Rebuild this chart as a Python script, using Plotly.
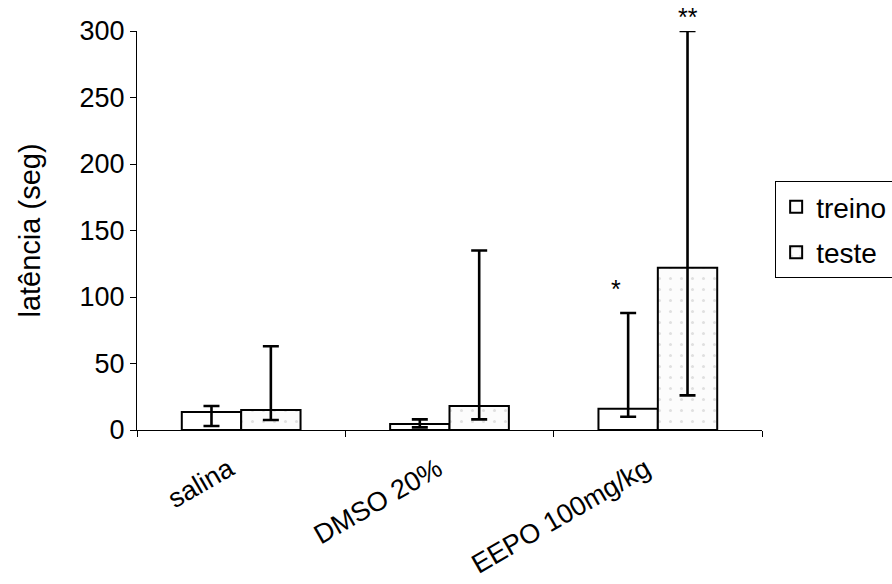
import plotly.graph_objects as go

categories = ["salina", "DMSO 20%", "EEPO 100mg/kg"]
treino = [13.5, 4.5, 16]
treino_upper = [18, 8, 88]
treino_lower = [3, 2, 10]
teste = [15, 18, 122]
teste_upper = [63, 135, 300]
teste_lower = [7.5, 8, 26]
y_ticks = [0, 50, 100, 150, 200, 250, 300]
stars = ["*", "**"]

FONT = "Liberation Sans, Arial, sans-serif"

fig = go.Figure()
fig.add_trace(go.Bar(
    name="treino", x=categories, y=treino, legendgroup="a",
    marker=dict(color="white", line=dict(color="black", width=2)),
    error_y=dict(type="data", symmetric=False,
                 array=[u - v for u, v in zip(treino_upper, treino)],
                 arrayminus=[v - l for v, l in zip(treino, treino_lower)],
                 color="black", thickness=2.6, width=8),
))
fig.add_trace(go.Bar(
    name="teste", x=categories, y=teste, legendgroup="b",
    marker=dict(color="#fcfcfc", line=dict(color="black", width=2),
                pattern=dict(shape=".", fgcolor="#c4c4c4", bgcolor="#fcfcfc",
                             size=11, solidity=0.06)),
    error_y=dict(type="data", symmetric=False,
                 array=[u - v for u, v in zip(teste_upper, teste)],
                 arrayminus=[v - l for v, l in zip(teste, teste_lower)],
                 color="black", thickness=2.6, width=8),
))

fig.add_annotation(x=categories[2], y=treino_upper[2], text=stars[0], showarrow=False,
                   xshift=-42, yshift=8, yanchor="bottom",
                   font=dict(family=FONT, size=25, color="black"))
fig.add_annotation(x=categories[2], y=teste_upper[2], text=stars[1], showarrow=False,
                   xshift=30, yshift=-2, yanchor="bottom",
                   font=dict(family=FONT, size=25, color="black"))

fig.update_layout(
    width=892, height=584,
    margin=dict(l=137, r=130, t=31, b=154, autoexpand=False),
    paper_bgcolor="white", plot_bgcolor="white",
    barmode="group", bargap=0.43, bargroupgap=0,
    font=dict(family=FONT, color="black"),
    showlegend=True,
    legend=dict(xref="container", yref="container", x=0.869, y=0.69,
                xanchor="left", yanchor="top",
                bordercolor="black", borderwidth=1, bgcolor="white",
                font=dict(family=FONT, size=28, color="black"),
                itemwidth=30, traceorder="grouped", tracegroupgap=6),
    xaxis=dict(showline=True, linecolor="black", linewidth=1,
               ticks="outside", tickson="boundaries", ticklen=6, tickcolor="black",
               tickangle=-30, tickfont=dict(family=FONT, size=27, color="black"),
               ticklabelstandoff=12, ticklabelshift=-12,
               range=[-0.5, 2.5], showgrid=False, zeroline=False),
    yaxis=dict(range=[0, 300], tickvals=y_ticks, showline=True, linecolor="black", linewidth=1,
               ticks="outside", ticklen=6, tickcolor="black",
               tickfont=dict(family=FONT, size=27, color="black"),
               title=dict(text="latência (seg)", font=dict(family=FONT, size=29, color="black"),
                          standoff=30),
               showgrid=False, zeroline=False),
)

fig.write_html("out.html")
